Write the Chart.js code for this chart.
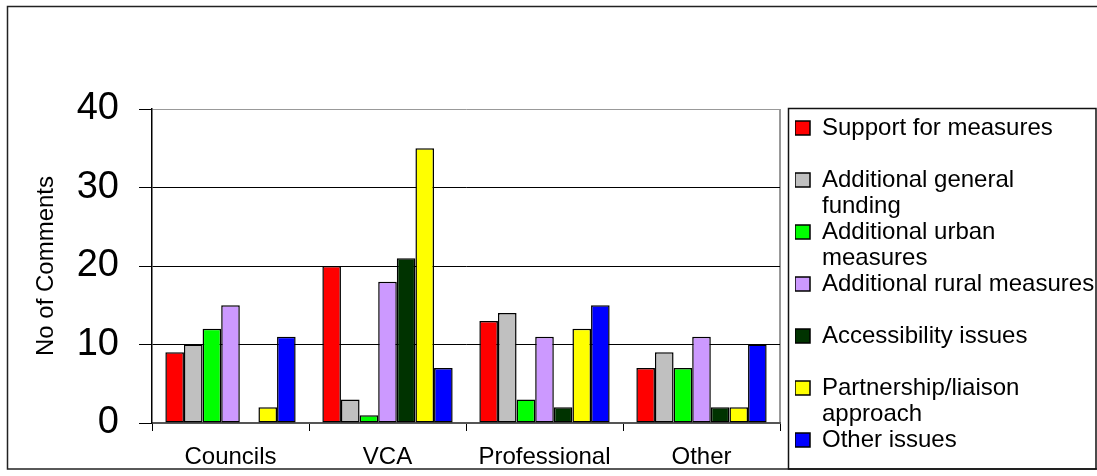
<!DOCTYPE html>
<html>
<head>
<meta charset="utf-8">
<script src="https://cdn.jsdelivr.net/npm/chart.js@4.4.1/dist/chart.umd.min.js"></script>
<style>
  html, body { margin: 0; padding: 0; background: #fff; }
  #wrap { position: relative; width: 1097px; height: 476px; }
  canvas { display: block; }
</style>
</head>
<body>
<div id="wrap"><canvas id="c" width="1097" height="476"></canvas></div>
<script>
const categories = ['Councils', 'VCA', 'Professional', 'Other'];
const seriesNames = [
  'Support for measures',
  'Additional general\nfunding',
  'Additional urban\nmeasures',
  'Additional rural measures',
  'Accessibility issues',
  'Partnership/liaison\napproach',
  'Other issues'
];
const supportForMeasures = [9, 20, 13, 7];
const additionalGeneralFunding = [10, 3, 14, 9];
const additionalUrbanMeasures = [12, 1, 3, 7];
const additionalRuralMeasures = [15, 18, 11, 11];
const accessibilityIssues = [0, 21, 2, 2];
const partnershipApproach = [2, 35, 12, 2];
const otherIssues = [11, 7, 15, 10];
const yTicks = [0, 10, 20, 30, 40];
const yTitle = 'No of Comments';

const seriesValues = [supportForMeasures, additionalGeneralFunding, additionalUrbanMeasures,
  additionalRuralMeasures, accessibilityIssues, partnershipApproach, otherIssues];
const seriesColors = ['#FF0000', '#C0C0C0', '#00FF00', '#CC99FF', '#003300', '#FFFF00', '#0000FF'];

Chart.defaults.font.family = "'Liberation Sans', Arial, sans-serif";
Chart.defaults.color = '#000';

const framePlugin = {
  id: 'frame',
  afterLayout(chart) {
    if (chart.legend) {
      const shift = 795 - chart.legend.left;
      chart.legend.left += shift; chart.legend.right += shift;
    }
  },
  beforeDraw(chart) {
    const ctx = chart.ctx;
    const a = chart.chartArea;
    ctx.save();
    ctx.fillStyle = '#fff';
    ctx.fillRect(0, 0, chart.width, chart.height);
    // outer border
    ctx.strokeStyle = '#222';
    ctx.lineWidth = 1.5;
    ctx.strokeRect(7.5, 6.5, 1200, 462.5);
    // legend box
    ctx.strokeStyle = '#111';
    ctx.lineWidth = 1.5;
    ctx.strokeRect(788.5, 108.5, 307.5, 360.5);
    // plot area right border
    ctx.strokeStyle = '#999';
    ctx.lineWidth = 2;
    ctx.beginPath();
    ctx.moveTo(a.right, a.top);
    ctx.lineTo(a.right, a.bottom);
    ctx.stroke();
    ctx.restore();
  }
};

new Chart(document.getElementById('c'), {
  type: 'bar',
  data: {
    labels: categories,
    datasets: seriesValues.map((vals, i) => ({
      label: seriesNames[i].replace('\n', ' '),
      data: vals,
      backgroundColor: seriesColors[i],
      borderColor: '#000',
      borderWidth: 1.5,
      borderSkipped: false,
      categoryPercentage: 0.83,
      barPercentage: 1.0
    }))
  },
  options: {
    responsive: false,
    devicePixelRatio: 1,
    animation: false,
    layout: { padding: { top: 109, right: 8, bottom: 0, left: 0 } },
    plugins: {
      tooltip: { enabled: false },
      legend: {
        position: 'right',
        align: 'start',
        maxWidth: 309,
        title: { display: true, text: '', font: { size: 1, lineHeight: 1 }, padding: { top: 6, bottom: 0 } },
        labels: {
          font: { size: 24, lineHeight: '26px' },
          boxWidth: 15,
          boxHeight: 14,
          padding: 0,
          color: '#000',
          generateLabels(chart) {
            const items = Chart.defaults.plugins.legend.labels.generateLabels(chart);
            items.forEach((it, i) => {
              const lines = seriesNames[i].split('\n');
              if (i === items.length - 1) it.text = lines.join(' ');
              else it.text = lines.length < 2 ? [lines[0], ''] : lines;
              it.lineWidth = 1.5;
              it.strokeStyle = '#000';
            });
            return items;
          }
        }
      }
    },
    scales: {
      x: {
        offset: true,
        grid: { offset: true, drawOnChartArea: false, drawTicks: true, tickLength: 8, color: '#000', tickColor: '#000' },
        border: { display: true, color: '#555', width: 2 },
        ticks: { font: { size: 24 }, padding: 12, color: '#000' },
        afterFit(scale) { scale.height = 53; }
      },
      y: {
        min: 0,
        max: 40,
        afterBuildTicks(scale) { scale.ticks = yTicks.map(v => ({ value: v })); },
        grid: {
          drawTicks: true,
          tickLength: 13,
          tickColor: '#000',
          lineWidth: 1,
          color(ctx) {
            if (!ctx.tick) return '#000';
            if (ctx.tick.value === 0) return 'rgba(0,0,0,0)';
            if (ctx.tick.value === 40) return '#999';
            return '#000';
          }
        },
        border: { display: true, color: '#000', width: 1.5 },
        ticks: { font: { size: 38 }, padding: 20, color: '#000' },
        title: { display: true, text: yTitle, font: { size: 24 }, color: '#000', padding: { top: 32, bottom: 0 } },
        afterFit(scale) { scale.width = 152; }
      }
    }
  },
  plugins: [framePlugin]
});
</script>
</body>
</html>
